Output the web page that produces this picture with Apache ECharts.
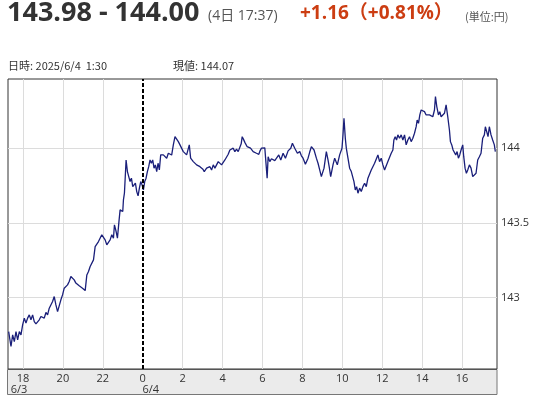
<!DOCTYPE html>
<html><head><meta charset="utf-8">
<script src="https://cdn.jsdelivr.net/npm/echarts@6/dist/echarts.min.js"></script>
<style>html,body{margin:0;padding:0;background:#fff}#c{width:540px;height:400px}</style>
</head><body><div id="c"></div>
<script>
// minutes after 2025/6/3 18:00
const minutes = [-43,-36,-31,-26,-21,-16,-11,-6,-1,4,9,14,19,24,29,34,39,44,49,54,59,64,69,74,79,84,89,94,99,104,109,114,119,124,129,134,139,144,149,154,159,164,169,174,179,184,187,192,197,202,207,212,217,222,227,232,237,242,247,252,257,262,267,272,275,280,284,289,292,297,300,302,305,307,310,314,318,322,326,330,334,338,342,346,350,354,358,362,366,370,374,378,382,386,390,394,398,402,406,410,414,418,422,427,432,437,442,447,452,457,462,467,472,477,482,487,492,497,500,504,512,517,522,527,532,537,541,545,552,557,562,567,572,577,582,587,592,597,602,607,612,617,622,627,632,637,642,647,652,656,659,663,667,674,679,684,688,692,697,702,709,713,717,722,727,732,734,737,742,747,752,757,762,769,775,782,789,797,805,810,817,825,832,837,842,849,857,862,867,875,882,887,892,897,905,912,917,921,925,932,937,945,952,959,962,965,969,972,977,982,987,992,995,999,1003,1007,1012,1017,1022,1027,1032,1037,1042,1047,1052,1057,1062,1067,1072,1077,1082,1087,1092,1097,1102,1107,1112,1115,1119,1123,1127,1132,1137,1142,1147,1152,1157,1162,1167,1172,1177,1182,1185,1189,1193,1197,1202,1207,1212,1217,1222,1227,1232,1237,1240,1244,1249,1253,1257,1262,1267,1272,1277,1282,1285,1289,1293,1297,1301,1305,1309,1313,1317,1322,1325,1329,1333,1337,1342,1347,1352,1357,1362,1367,1372,1377,1382,1387,1390,1394,1398,1402,1407,1412,1417,1420];
const prices = [142.771,142.671,142.749,142.704,142.771,142.716,142.771,142.749,142.816,142.861,142.828,142.861,142.883,142.850,142.883,142.838,142.823,142.810,142.850,142.872,142.883,142.861,142.899,142.883,142.928,142.917,142.973,143.006,142.950,142.905,142.917,142.984,143.017,143.062,143.051,143.084,143.107,143.140,143.129,143.118,143.096,143.107,143.078,143.084,143.062,143.056,143.046,143.151,143.174,143.207,143.219,143.252,143.341,143.330,143.375,143.386,143.420,143.431,143.386,143.353,143.346,143.386,143.420,143.397,143.487,143.442,143.397,143.520,143.587,143.599,143.576,143.654,143.699,143.788,143.922,143.844,143.833,143.777,143.800,143.743,143.733,143.766,143.710,143.681,143.733,143.777,143.755,143.721,143.777,143.800,143.844,143.877,143.922,143.900,143.922,143.867,143.889,143.844,143.900,143.855,143.956,143.967,143.956,143.967,143.934,143.967,143.978,143.955,144.023,144.078,144.090,144.045,144.023,144.011,143.978,143.967,143.956,143.944,144.023,143.934,143.911,143.900,143.889,143.900,143.877,143.877,143.860,143.844,143.867,143.877,143.877,143.855,143.889,143.867,143.889,143.911,143.911,143.889,143.900,143.922,143.934,143.960,143.989,143.994,144.001,143.978,143.994,143.978,143.989,144.030,144.078,144.060,144.040,144.011,144.005,144.001,143.990,143.978,143.975,143.967,143.960,143.985,144.001,143.998,144.003,144.001,143.800,143.944,143.911,143.930,143.922,143.918,143.911,143.956,143.922,143.967,143.934,143.983,144.001,144.034,144.001,143.967,143.978,143.950,143.934,143.893,143.934,143.975,144.011,143.989,143.934,143.900,143.855,143.810,143.867,143.978,143.922,143.870,143.810,143.889,143.934,143.889,143.956,144.001,144.090,144.202,144.068,144.001,143.934,143.867,143.844,143.833,143.777,143.721,143.743,143.699,143.733,143.710,143.743,143.766,143.743,143.800,143.788,143.855,143.867,143.900,143.889,143.956,143.911,143.934,143.889,143.855,143.867,143.911,143.922,143.967,143.989,144.056,144.078,144.056,144.090,144.068,144.090,144.056,144.090,144.023,144.056,144.078,144.045,144.068,144.101,144.145,144.190,144.168,144.224,144.257,144.253,144.246,144.224,144.235,144.224,144.235,144.212,144.257,144.347,144.280,144.224,144.246,144.212,144.202,144.235,144.291,144.212,144.123,144.045,144.023,143.989,144.001,143.956,143.978,143.934,143.956,143.989,144.023,143.944,143.867,143.833,143.855,143.889,143.867,143.810,143.800,143.833,143.922,143.944,143.967,144.068,144.090,144.145,144.112,144.078,144.145,144.090,144.056,144.023,143.978];

const hourTicks = [0,120,240,360,480,600,720,840,960,1080,1200,1320];
const hourLabels = ['18','20','22','0','2','4','6','8','10','12','14','16'];
const dateLabels = {0:'6/3', 360:'6/4'};
const dayBoundary = 360;
const yTicks = [143,143.5,144];
const yLabels = ['143','143.5','144'];

const chart = echarts.init(document.getElementById('c'));
const FONT = '"Open Sans", "Noto Sans CJK JP", sans-serif';

const gridLines = hourTicks.filter(t => t !== dayBoundary).map(t => ({xAxis: t}))
  .concat(yTicks.map(v => ({yAxis: v})));

chart.setOption({
  animation: false,
  textStyle: {fontFamily: FONT},
  grid: {left: 8, right: 43, top: 79, height: 290, show: true, borderColor: '#333', borderWidth: 1, backgroundColor: 'transparent'},
  xAxis: {
    type: 'value', min: -45, max: 1425,
    axisLine: {show: false}, axisTick: {show: false}, splitLine: {show: false},
    axisLabel: {
      customValues: hourTicks,
      margin: 4, color: '#333', fontSize: 11, lineHeight: 11, fontFamily: FONT,
      rich: {
        dl: {fontSize: 11, lineHeight: 11, color: '#333', padding: [0, 8, 0, 0]},
        dr: {fontSize: 11, lineHeight: 11, color: '#333', padding: [0, 0, 0, 16]}
      },
      formatter: v => {
        const k = Math.round(v);
        const i = hourTicks.indexOf(k);
        const h = i >= 0 ? hourLabels[i] : '';
        const d = dateLabels[k];
        if (!d) return h;
        return h + '\n{' + (k === 0 ? 'dl' : 'dr') + '|' + d + '}';
      }
    }
  },
  yAxis: {
    type: 'value', position: 'right', min: 142.52, max: 144.465,
    axisLine: {show: false}, axisTick: {show: false}, splitLine: {show: false},
    axisLabel: {
      customValues: yTicks, margin: 4, color: '#333', fontSize: 11, fontFamily: FONT,
      formatter: v => { const i = yTicks.findIndex(t => Math.abs(t - v) < 1e-6); return i >= 0 ? yLabels[i] : ''; }
    }
  },
  series: [{
    type: 'line', data: minutes.map((m, i) => [m, prices[i]]),
    showSymbol: false, symbol: 'none',
    lineStyle: {color: '#1a1f7a', width: 1.3}, z: 2,
    markLine: {
      silent: true, symbol: 'none', z: 1, label: {show: false},
      lineStyle: {color: '#dcdcdc', width: 1, type: 'solid'},
      data: gridLines
    }
  }, {
    type: 'line', data: [],
    markLine: {
      silent: true, symbol: 'none', z: 3, label: {show: false},
      lineStyle: {color: '#000', width: 2, type: [4, 2]},
      data: [{xAxis: dayBoundary}]
    }
  }],
  graphic: [
    {type: 'rect', z: -1, shape: {x: 7.5, y: 369.5, width: 489.5, height: 25}, style: {fill: '#ebebeb', stroke: '#777', lineWidth: 1}},
    {type: 'text', left: 7, top: 0, style: {text: '143.98 - 144.00', fill: '#333', font: 'bold 27px "Open Sans", sans-serif'}},
    {type: 'text', left: 208, top: 9, style: {text: '(4日 17:37)', fill: '#555', font: '14px "Open Sans", "Noto Sans CJK JP", sans-serif'}},
    {type: 'text', left: 300, top: 4, style: {text: '+1.16（+0.81%）', fill: '#cc3d12', font: 'bold 19px "Open Sans", "Noto Sans CJK JP", sans-serif'}},
    {type: 'text', left: 465, top: 11, style: {text: '(単位:円)', fill: '#555', font: '11px "Noto Sans CJK JP", sans-serif'}},
    {type: 'text', left: 8, top: 60, style: {text: '日時: 2025/6/4  1:30', fill: '#333', font: '11px "Noto Sans CJK JP", sans-serif'}},
    {type: 'text', left: 173, top: 60, style: {text: '現値: 144.07', fill: '#333', font: '11px "Noto Sans CJK JP", sans-serif'}}
  ]
});
</script>
</body></html>
